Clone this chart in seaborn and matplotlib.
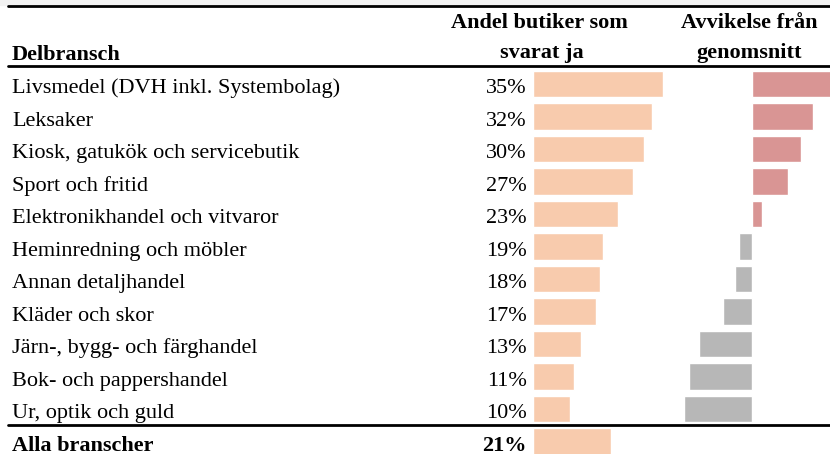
import matplotlib
matplotlib.use("Agg")
import matplotlib.pyplot as plt
import matplotlib.transforms as mtransforms
import seaborn as sns

branscher = [
    "Livsmedel (DVH inkl. Systembolag)",
    "Leksaker",
    "Kiosk, gatukök och servicebutik",
    "Sport och fritid",
    "Elektronikhandel och vitvaror",
    "Heminredning och möbler",
    "Annan detaljhandel",
    "Kläder och skor",
    "Järn-, bygg- och färghandel",
    "Bok- och pappershandel",
    "Ur, optik och guld",
]
andel = [35, 32, 30, 27, 23, 19, 18, 17, 13, 11, 10]
avvikelse = [13.5, 10.3, 8.2, 6.0, 1.8, -2.1, -2.8, -4.7, -8.7, -10.5, -11.3]
total_label = "Alla branscher"
total_andel = 21

W, H = 830, 454
PEACH = "#F8CBAD"
RED = "#D99594"
GREY = "#B7B7B7"

sns.set_style("white")
plt.rcParams["font.family"] = ["Liberation Serif", "DejaVu Serif"]
plt.rcParams["font.size"] = 16
plt.rcParams["text.color"] = "black"

fig = plt.figure(figsize=(W / 100, H / 100), dpi=100)


def fx(px):
    return px / W


def fy(py):
    return 1 - py / H


# rows: centre of first row at 84 px, pitch 32.5 px, 12 rows incl. total
row_top = 84 - 32.5 / 2
row_bot = 84 + 11.5 * 32.5

# left bars: share of shops
ax1 = fig.add_axes([fx(533), fy(row_bot), fx(40 * 3.71), (row_bot - row_top) / H])
all_labels = branscher + [total_label]
all_andel = andel + [total_andel]
sns.barplot(x=all_andel, y=all_labels, order=all_labels, orient="h",
            color=PEACH, saturation=1, width=0.82, ax=ax1)
ax1.set_xlim(0, 40)
ax1.set_ylim(11.5, -0.5)
ax1.axis("off")

# right bars: deviation from average
zero_px = 751.5
ax2 = fig.add_axes([fx(670), fy(row_bot), fx(W - 670), (row_bot - row_top) / H])
sign = ["pos" if v > 0 else "neg" for v in avvikelse]
sns.barplot(x=avvikelse, y=branscher, order=branscher, hue=sign,
            palette={"pos": RED, "neg": GREY}, dodge=False, legend=False,
            orient="h", saturation=1, width=0.82, ax=ax2)
ax2.set_xlim(-(zero_px - 670) / 6, (W - zero_px) / 6)
ax2.set_ylim(11.5, -0.5)
ax2.axis("off")

# row texts (baseline ~9 px below bar centre)
tr = mtransforms.blended_transform_factory(fig.transFigure, ax1.transData)
off = 9 / 32.5
for i, (name, v) in enumerate(zip(all_labels, all_andel)):
    w = "bold" if i == len(all_labels) - 1 else "normal"
    ax1.text(fx(12), i + off, name, transform=tr, va="baseline", ha="left",
             fontweight=w, clip_on=False)
    ax1.text(fx(527), i + off, f"{v}%", transform=tr, va="baseline", ha="right",
             fontweight=w, clip_on=False)

# header
fig.patches.append(plt.Rectangle((0, fy(5)), 1, 5 / H, transform=fig.transFigure,
                                 color="#F2F2F2", zorder=0))
fig.text(fx(12), fy(60), "Delbransch", fontweight="bold", va="baseline")
fig.text(fx(539), fy(28), "Andel butiker som", fontweight="bold", va="baseline", ha="center")
fig.text(fx(542), fy(58), "svarat ja", fontweight="bold", va="baseline", ha="center")
fig.text(fx(749), fy(28), "Avvikelse från", fontweight="bold", va="baseline", ha="center")
fig.text(fx(749.5), fy(58), "genomsnitt", fontweight="bold", va="baseline", ha="center")

# rules
for py in (6, 66, 425):
    fig.add_artist(plt.Line2D([fx(8), 1], [fy(py), fy(py)], color="black",
                              linewidth=2, transform=fig.transFigure))

plt.savefig("out.png", dpi=100)
